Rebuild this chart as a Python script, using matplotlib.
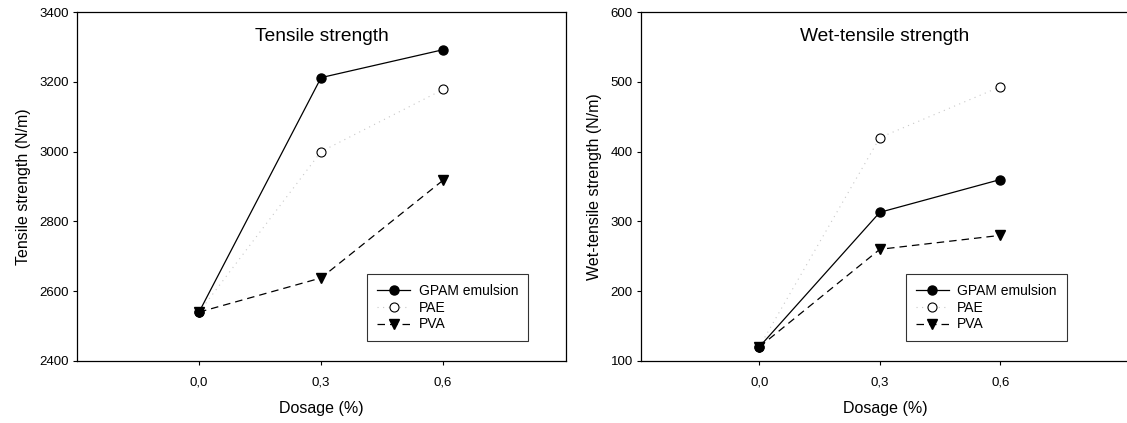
import matplotlib.pyplot as plt

plt.rcParams['font.family'] = ['Liberation Sans', 'DejaVu Sans']

dosage = [0.0, 0.3, 0.6]
tick_labels = ['0,0', '0,3', '0,6']

# Tensile strength (N/m)
ts_gpam = [2540, 3212, 3292]
ts_pae = [2540, 3000, 3178]
ts_pva = [2540, 2638, 2918]

# Wet-tensile strength (N/m)
wts_gpam = [120, 313, 360]
wts_pae = [120, 420, 493]
wts_pva = [120, 260, 280]

fig = plt.figure(figsize=(11.27, 4.23), dpi=100)
ax1 = fig.add_axes([0.0683, 0.1466, 0.4339, 0.825])
ax2 = fig.add_axes([0.5688, 0.1466, 0.4330, 0.825])


def draw(ax, gpam, pae, pva, title, ylabel, ylim, yticks, xlim, leg_x):
    ax.plot(dosage, pae, linestyle=(0, (1, 4)), color='#c8c8c8', linewidth=0.8,
            marker='o', markersize=6.5, markerfacecolor='white',
            markeredgecolor='black', markeredgewidth=0.8, label='PAE', zorder=2)
    ax.plot(dosage, pva, linestyle=(0, (6, 4)), color='black', linewidth=0.9,
            marker='v', markersize=6.5, markerfacecolor='black',
            markeredgecolor='black', label='PVA', zorder=3)
    ax.plot(dosage, gpam, linestyle='-', color='black', linewidth=0.9,
            marker='o', markersize=6.5, markerfacecolor='black',
            markeredgecolor='black', label='GPAM emulsion', zorder=4)
    ax.set_xlim(*xlim)
    ax.set_ylim(*ylim)
    ax.set_yticks(yticks)
    ax.set_xticks(dosage)
    ax.set_xticklabels(tick_labels)
    ax.tick_params(direction='out', length=3, width=0.8, labelsize=9.5, pad=3)
    ax.tick_params(axis='x', pad=8.5)
    ax.set_xlabel('Dosage (%)', fontsize=11.5, labelpad=9)
    ax.set_ylabel(ylabel, fontsize=11.5, labelpad=6)
    ax.text(0.5, 0.93, title, transform=ax.transAxes, ha='center', va='center', fontsize=13.8)
    for s in ax.spines.values():
        s.set_linewidth(0.9)
    handles, labels = ax.get_legend_handles_labels()
    order = [2, 0, 1]
    leg = ax.legend([handles[i] for i in order], [labels[i] for i in order],
                    loc='lower right', bbox_to_anchor=(leg_x, 0.057), borderaxespad=0,
                    fontsize=10, frameon=True, fancybox=False, edgecolor='black',
                    handlelength=2.4, borderpad=0.7, labelspacing=0.2, handletextpad=0.6)
    leg.get_frame().set_linewidth(0.8)


draw(ax1, ts_gpam, ts_pae, ts_pva, 'Tensile strength', 'Tensile strength (N/m)',
     (2400, 3400), [2400, 2600, 2800, 3000, 3200, 3400], (-0.30, 0.902), 0.922)
draw(ax2, wts_gpam, wts_pae, wts_pva, 'Wet-tensile strength', 'Wet-tensile strength (N/m)',
     (100, 600), [100, 200, 300, 400, 500, 600], (-0.294, 0.92), 0.872)

fig.savefig('out.png', dpi=100)
